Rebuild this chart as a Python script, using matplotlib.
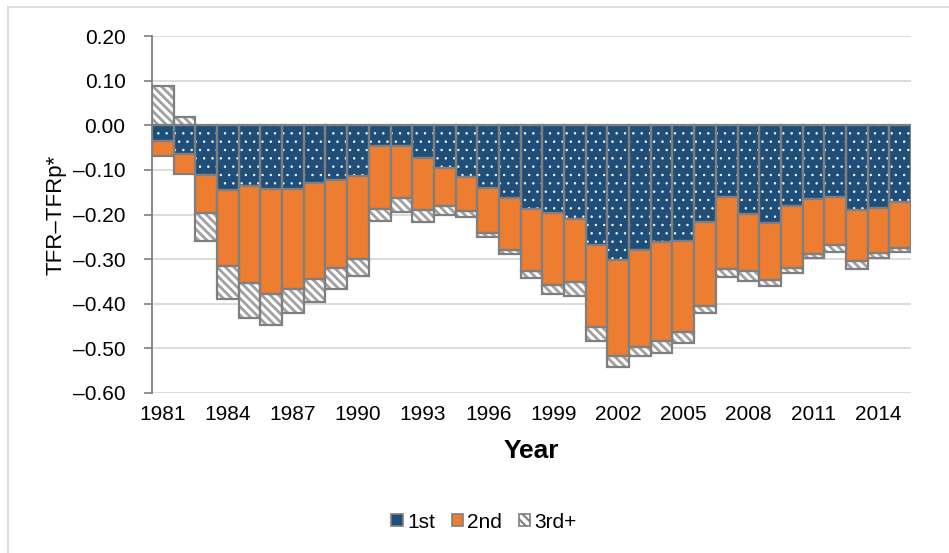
import matplotlib
matplotlib.use("Agg")
import matplotlib.pyplot as plt
from matplotlib.patches import Patch
from matplotlib.lines import Line2D
from matplotlib.ticker import FuncFormatter
import numpy as np

years = list(range(1981, 2016))
first = [-0.035, -0.064, -0.111, -0.145, -0.136, -0.143, -0.143, -0.130, -0.123, -0.114,
         -0.046, -0.046, -0.074, -0.096, -0.117, -0.141, -0.164, -0.188, -0.196, -0.209,
         -0.268, -0.302, -0.280, -0.262, -0.259, -0.216, -0.161, -0.199, -0.218, -0.181,
         -0.166, -0.161, -0.191, -0.186, -0.172]
second = [-0.035, -0.046, -0.085, -0.170, -0.218, -0.235, -0.225, -0.215, -0.198, -0.186,
          -0.141, -0.118, -0.116, -0.085, -0.075, -0.101, -0.116, -0.138, -0.163, -0.143,
          -0.183, -0.215, -0.216, -0.221, -0.205, -0.188, -0.161, -0.128, -0.129, -0.139,
          -0.123, -0.107, -0.113, -0.101, -0.102]
third = [0.087, 0.018, -0.063, -0.074, -0.079, -0.070, -0.053, -0.050, -0.047, -0.037,
         -0.027, -0.030, -0.026, -0.020, -0.013, -0.009, -0.009, -0.016, -0.020, -0.030,
         -0.032, -0.024, -0.022, -0.027, -0.023, -0.016, -0.017, -0.021, -0.013, -0.012,
         -0.008, -0.017, -0.018, -0.010, -0.009]
series_names = ["1st", "2nd", "3rd+"]
tick_years = list(range(1981, 2016, 3))

BLUE = "#1F4E79"
ORANGE = "#ED7D31"
EDGE = "#7F7F7F"
HATCHGRAY = "#A0A0A0"
GRID = "#D9D9D9"

plt.rcParams["font.family"] = ["Liberation Sans", "DejaVu Sans"]

fig = plt.figure(figsize=(9.49, 5.53), dpi=100)
ax = fig.add_axes([152/949, 1-393/553, (911-152)/949, (393-36)/553])

x = np.arange(len(years))
f = np.array(first); s = np.array(second); t = np.array(third)
bot3 = np.where(t < 0, f + s, 0.0)

def set_hlw(bars, lw):
    for p in bars:
        if hasattr(p, "set_hatch_linewidth"):
            p.set_hatch_linewidth(lw)

# 1st: blue with white dots
with plt.rc_context({"hatch.linewidth": 0.5}):
    b1 = ax.bar(x, f, width=1.0, color=BLUE, edgecolor="white", hatch="..", linewidth=0, zorder=2)
set_hlw(b1, 0.5)
ax.bar(x, f, width=1.0, fill=False, edgecolor=EDGE, linewidth=1.6, zorder=3)
# 2nd
ax.bar(x, s, width=1.0, bottom=f, color=ORANGE, edgecolor=EDGE, linewidth=1.6, zorder=3)
# 3rd+
with plt.rc_context({"hatch.linewidth": 2.0}):
    b3 = ax.bar(x, t, width=1.0, bottom=bot3, color="white", edgecolor=HATCHGRAY,
                hatch="\\\\\\\\", linewidth=0, zorder=2)
set_hlw(b3, 2.0)
ax.bar(x, t, width=1.0, bottom=bot3, fill=False, edgecolor=EDGE, linewidth=1.6, zorder=3)

ax.set_xlim(-0.5, len(years) - 0.5)
ax.set_ylim(-0.60, 0.20)
ax.set_yticks(np.arange(-0.60, 0.2001, 0.10))

def fmt(v, pos):
    if abs(v) < 1e-9:
        return "0.00"
    return f"{v:.2f}".replace("-", "\u2013")
ax.yaxis.set_major_formatter(FuncFormatter(fmt))

ax.set_xticks([years.index(yv) for yv in tick_years])
ax.set_xticklabels([str(yv) for yv in tick_years])

ax.tick_params(axis="x", length=0, pad=9, labelsize=15, colors="black")
ax.tick_params(axis="y", length=6, width=1.2, color=EDGE, pad=13, labelsize=15)

for sp in ["top", "right", "bottom"]:
    ax.spines[sp].set_visible(False)
ax.spines["left"].set_color(EDGE)
ax.spines["left"].set_linewidth(1.3)

ax.set_axisbelow(True)
ax.yaxis.grid(True, color=GRID, linewidth=1.3)
ax.xaxis.grid(False)

ax.set_ylabel("TFR\u2013TFRp*", fontsize=16, va="center")
ax.yaxis.set_label_coords(-0.1265, 0.5)
ax.set_xlabel("Year", fontsize=19, fontweight="bold", va="top")
ax.xaxis.set_label_coords(0.5, -0.128)

with plt.rc_context({"hatch.linewidth": 1.5}):
    handles = [
        Patch(facecolor=BLUE, edgecolor=EDGE, linewidth=1.2, label=series_names[0]),
        Patch(facecolor=ORANGE, edgecolor=EDGE, linewidth=1.2, label=series_names[1]),
        Patch(facecolor="white", edgecolor=EDGE, hatch="\\\\\\\\", linewidth=1.2, label=series_names[2]),
    ]
    fig.legend(handles=handles, loc="center", bbox_to_anchor=(484/949, 1-522/553), ncol=3,
               frameon=False, fontsize=15, handlelength=0.55, handleheight=0.55,
               handletextpad=0.2, columnspacing=0.8)

# outer light border (top and left visible)
fig.add_artist(Line2D([8/949, 1], [1-7/553, 1-7/553], transform=fig.transFigure, color=GRID, linewidth=1.2))
fig.add_artist(Line2D([8/949, 8/949], [0, 1-7/553], transform=fig.transFigure, color=GRID, linewidth=1.2))

fig.savefig("out.png", dpi=100)
